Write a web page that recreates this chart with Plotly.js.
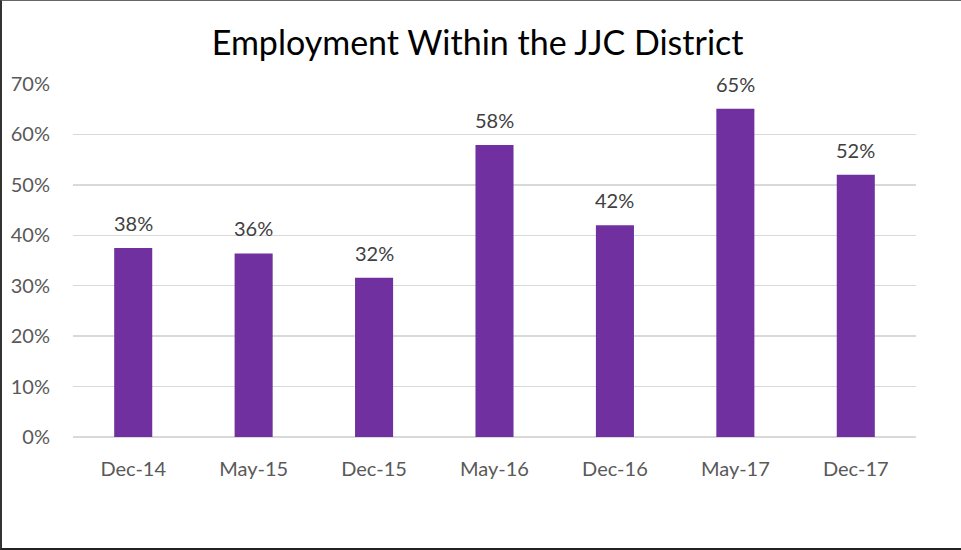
<!DOCTYPE html>
<html>
<head>
<meta charset="utf-8">
<script src="https://cdn.plot.ly/plotly-3.0.1.min.js"></script>
<style>
  html, body { margin: 0; padding: 0; background: #fff; }
  #wrap { position: absolute; left: 0; top: 0; width: 961px; height: 550px; box-sizing: border-box;
          border-left: 2px solid #333; border-top: 1px solid #666; border-bottom: 2px solid #222; }
  #chart { position: absolute; left: -2px; top: -1px; width: 961px; height: 550px; }
</style>
</head>
<body>
<div id="wrap"><div id="chart"></div></div>
<script>
const categories = ["Dec-14", "May-15", "Dec-15", "May-16", "Dec-16", "May-17", "Dec-17"];
const values = [0.375, 0.364, 0.316, 0.579, 0.42, 0.651, 0.52];
const labels = ["38%", "36%", "32%", "58%", "42%", "65%", "52%"];
const yTickVals = [0, 0.1, 0.2, 0.3, 0.4, 0.5, 0.6, 0.7];
const yTickText = ["0%", "10%", "20%", "30%", "40%", "50%", "60%", "70%"];

const font = "Lato, 'Open Sans', sans-serif";

const trace = {
  type: "bar",
  x: categories,
  y: values,
  marker: { color: "#7030A0" },
  hoverinfo: "none"
};

const annotations = categories.map((c, i) => ({
  x: c, y: values[i], text: labels[i], showarrow: false,
  xref: "x", yref: "y", yanchor: "bottom", yshift: 11,
  font: { family: font, size: 20, color: "#404040" }
}));

const layout = {
  width: 961, height: 550,
  margin: { l: 73, r: 45, t: 84, b: 113 },
  paper_bgcolor: "rgba(0,0,0,0)",
  plot_bgcolor: "rgba(0,0,0,0)",
  showlegend: false,
  bargap: 0.684,
  title: {
    text: "Employment Within the JJC District",
    font: { family: font, size: 34, color: "#000" },
    x: 0.497, xanchor: "center", y: 0.922, yanchor: "middle"
  },
  xaxis: {
    type: "category",
    showgrid: false, zeroline: false, showline: false,
    ticks: "", ticklabelstandoff: 18,
    tickfont: { family: font, size: 20, color: "#595959" }
  },
  yaxis: {
    range: [0, 0.7],
    tickvals: yTickVals, ticktext: yTickText,
    showgrid: true, gridcolor: "#d9d9d9", gridwidth: 1.5,
    zeroline: true, zerolinecolor: "#d9d9d9", zerolinewidth: 1.5,
    showline: false, ticks: "", ticklabelstandoff: 22,
    tickfont: { family: font, size: 20, color: "#595959" }
  },
  annotations: annotations
};

Plotly.newPlot("chart", [trace], layout, { displayModeBar: false, staticPlot: true });
</script>
</body>
</html>
